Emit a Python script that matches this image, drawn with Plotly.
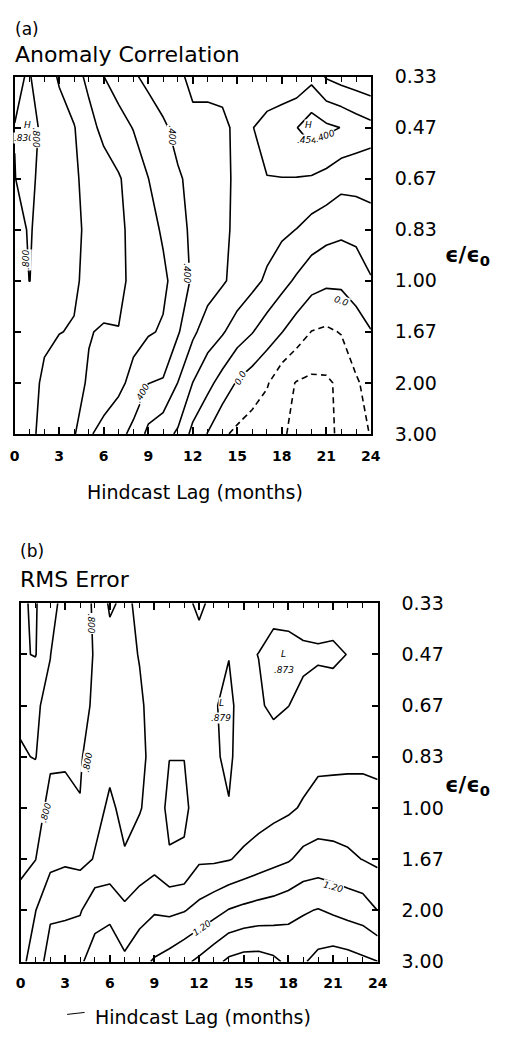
import plotly.graph_objects as go

# ---------------- data ----------------
months = [0, 1, 2, 3, 4, 5, 6, 7, 8, 9, 10, 11, 12, 13, 14, 15, 16, 17, 18, 19, 20, 21, 22, 23, 24]
eps_rows = [0, 1, 2, 3, 4, 5, 6, 7]
eps_labels = ["0.33", "0.47", "0.67", "0.83", "1.00", "1.67", "2.00", "3.00"]
lag_ticks = [0, 3, 6, 9, 12, 15, 18, 21, 24]
lag_tick_labels = ["0", "3", "6", "9", "12", "15", "18", "21", "24"]

# (a) anomaly correlation, one list per eps/eps0 row (0.33 ... 3.00), columns = lag 0..24
acc_033 = [0.79, 0.805, 0.752, 0.689, 0.637, 0.577, 0.501, 0.457, 0.413, 0.375, 0.339, 0.304, 0.295, 0.29, 0.285, 0.28, 0.26, 0.24, 0.22, 0.23, 0.27, 0.19, 0.16, 0.14, 0.12]
acc_047 = [0.801, 0.83, 0.779, 0.742, 0.705, 0.631, 0.575, 0.536, 0.496, 0.456, 0.416, 0.37, 0.305, 0.31, 0.31, 0.29, 0.297, 0.328, 0.366, 0.397, 0.454, 0.42, 0.398, 0.36, 0.33]
acc_067 = [0.799, 0.815, 0.777, 0.744, 0.711, 0.677, 0.643, 0.609, 0.558, 0.501, 0.456, 0.411, 0.376, 0.344, 0.313, 0.29, 0.29, 0.298, 0.298, 0.297, 0.29, 0.27, 0.235, 0.24, 0.255]
acc_083 = [0.78, 0.805, 0.776, 0.746, 0.716, 0.685, 0.651, 0.617, 0.578, 0.535, 0.488, 0.429, 0.383, 0.348, 0.314, 0.286, 0.264, 0.241, 0.22, 0.198, 0.16, 0.135, 0.12, 0.125, 0.14]
acc_100 = [0.77, 0.801, 0.771, 0.741, 0.711, 0.68, 0.648, 0.616, 0.584, 0.552, 0.519, 0.46, 0.385, 0.348, 0.311, 0.271, 0.229, 0.184, 0.132, 0.085, 0.04, 0.02, 0.02, 0.05, 0.095]
acc_167 = [0.75, 0.74, 0.71, 0.702, 0.695, 0.605, 0.59, 0.598, 0.53, 0.51, 0.49, 0.41, 0.32, 0.25, 0.21, 0.15, 0.105, 0.05, 0.003, -0.05, -0.102, -0.115, -0.095, -0.05, -0.005]
acc_200 = [0.75, 0.72, 0.69, 0.66, 0.63, 0.59, 0.56, 0.525, 0.47, 0.402, 0.39, 0.298, 0.199, 0.13, 0.06, -0.01, -0.05, -0.09, -0.165, -0.205, -0.22, -0.215, -0.18, -0.11, -0.07]
acc_300 = [0.75, 0.715, 0.68, 0.645, 0.609, 0.512, 0.467, 0.431, 0.373, 0.276, 0.236, 0.186, 0.07, -0.004, -0.084, -0.12, -0.145, -0.17, -0.195, -0.21, -0.22, -0.215, -0.188, -0.14, -0.095]

# (b) RMS error
rms_033 = [0.61, 0.59, 0.68, 0.72, 0.77, 0.81, 0.915, 0.88, 0.92, 0.93, 0.93, 0.92, 0.885, 0.92, 0.93, 0.93, 0.93, 0.92, 0.93, 0.94, 0.93, 0.94, 0.95, 0.95, 0.95]
rms_047 = [0.61, 0.595, 0.699, 0.735, 0.77, 0.805, 0.86, 0.88, 0.903, 0.93, 0.94, 0.93, 0.93, 0.905, 0.902, 0.91, 0.899, 0.88, 0.875, 0.885, 0.892, 0.885, 0.902, 0.93, 0.94]
rms_067 = [0.68, 0.695, 0.71, 0.745, 0.78, 0.81, 0.84, 0.865, 0.89, 0.925, 0.945, 0.94, 0.925, 0.905, 0.885, 0.93, 0.91, 0.885, 0.899, 0.92, 0.93, 0.94, 0.95, 0.955, 0.96]
rms_083 = [0.71, 0.695, 0.795, 0.795, 0.795, 0.825, 0.885, 0.875, 0.885, 0.92, 0.901, 0.901, 0.915, 0.905, 0.893, 0.92, 0.935, 0.94, 0.95, 0.96, 0.975, 0.975, 0.975, 0.97, 0.96]
rms_100 = [0.76, 0.785, 0.81, 0.812, 0.802, 0.88, 0.91, 0.885, 0.895, 0.93, 0.887, 0.887, 0.93, 0.91, 0.902, 0.94, 0.955, 0.97, 0.985, 1.01, 1.04, 1.045, 1.05, 1.06, 1.05]
rms_167 = [0.78, 0.798, 0.87, 0.885, 0.875, 0.905, 0.92, 0.905, 0.935, 0.96, 0.905, 0.91, 0.985, 0.985, 0.995, 1.02, 1.045, 1.07, 1.09, 1.13, 1.14, 1.13, 1.115, 1.098, 1.08]
rms_200 = [0.83, 0.897, 0.985, 0.985, 0.99, 1.075, 1.085, 1.02, 1.06, 1.09, 1.08, 1.095, 1.13, 1.165, 1.205, 1.225, 1.24, 1.25, 1.27, 1.29, 1.305, 1.285, 1.265, 1.25, 1.199]
rms_300 = [0.87, 0.95, 1.04, 1.06, 1.09, 1.13, 1.14, 1.12, 1.17, 1.21, 1.24, 1.28, 1.32, 1.37, 1.42, 1.44, 1.44, 1.42, 1.38, 1.39, 1.43, 1.45, 1.44, 1.42, 1.401]

acc_grid = [acc_033, acc_047, acc_067, acc_083, acc_100, acc_167, acc_200, acc_300]
rms_grid = [rms_033, rms_047, rms_067, rms_083, rms_100, rms_167, rms_200, rms_300]

# contour labels: (text, lag, row, angle)
acc_labels = [
    ("H", 0.85, 0.95, 0), (".830", 0.6, 1.2, 0), (".800", 1.45, 1.2, 90),
    (".800", 0.8, 3.6, -90), (".400", 10.6, 1.15, 90), (".400", 11.6, 3.85, 90),
    (".400", 8.6, 6.2, -60), ("H", 19.8, 0.95, 0), (".454", 19.7, 1.25, 0),
    (".400", 20.9, 1.17, -20), ("0.0", 22.0, 4.4, 20), ("0.0", 15.2, 5.9, -60),
]
rms_labels = [
    (".800", 4.75, 0.4, 90), (".800", 4.5, 3.1, -80), (".800", 1.7, 4.1, -75),
    ("L", 17.7, 1.0, 0), (".873", 17.7, 1.3, 0), ("L", 13.5, 1.95, 0), (".879", 13.5, 2.25, 0),
    ("1.20", 12.2, 6.35, -35), ("1.20", 21.0, 5.55, 15),
]

W, H = 507, 1044
FONT = "DejaVu Sans"

fig = go.Figure()


def add_panel(z, xa, ya, solid_rng, dash_rng):
    s0, s1 = solid_rng
    fig.add_trace(go.Contour(
        x=months, y=eps_rows, z=z, xaxis=xa, yaxis=ya,
        autocontour=False,
        contours=dict(start=s0, end=s1 + 1e-6, size=0.1, coloring="none"),
        line=dict(color="black", width=1.6, smoothing=0),
        showscale=False, hoverinfo="skip"))
    if dash_rng:
        d0, d1 = dash_rng
        fig.add_trace(go.Contour(
            x=months, y=eps_rows, z=z, xaxis=xa, yaxis=ya,
            autocontour=False,
            contours=dict(start=d0, end=d1 + 1e-6, size=0.1, coloring="none"),
            line=dict(color="black", width=1.6, smoothing=0, dash="6px,4px"),
            showscale=False, hoverinfo="skip"))


add_panel(acc_grid, "x", "y", (0.0, 0.8), (-0.2, -0.1))
add_panel(rms_grid, "x2", "y2", (0.6, 1.4), None)


def px_x(p):
    return p / W


def px_y(p):
    return (H - p) / H


xcommon = dict(range=[0, 24], tickvals=lag_ticks, ticktext=lag_tick_labels,
               ticks="inside", ticklen=7, tickwidth=1.5, tickcolor="black",
               minor=dict(ticks="inside", dtick=1, ticklen=5, tickwidth=1.2, tickcolor="black", showgrid=False),
               showline=True, linewidth=2, linecolor="black", mirror="ticks",
               showgrid=False, zeroline=False,
               tickfont=dict(family=FONT, size=14, color="black", weight="bold"), ticklabelstandoff=8)
ycommon = dict(range=[7, 0], tickvals=eps_rows, ticktext=eps_labels, side="right",
               ticks="inside", ticklen=6, tickwidth=1.5, tickcolor="black",
               showline=True, linewidth=2, linecolor="black", mirror="ticks",
               showgrid=False, zeroline=False,
               tickfont=dict(family=FONT, size=19, color="black"), ticklabelstandoff=18)

fig.update_layout(
    width=W, height=H, margin=dict(l=0, r=0, t=0, b=0),
    paper_bgcolor="white", plot_bgcolor="white", showlegend=False,
    xaxis=dict(domain=[px_x(10), px_x(377)], anchor="y", **xcommon),
    yaxis=dict(domain=[px_y(432), px_y(67)], anchor="x", **ycommon),
    xaxis2=dict(domain=[px_x(16), px_x(384)], anchor="y2", **xcommon),
    yaxis2=dict(domain=[px_y(971), px_y(605)], anchor="x2", **ycommon),
)

ann = []
for txt, x, y, ang in acc_labels:
    ann.append(dict(text=f"<i>{txt}</i>", x=x, y=y, xref="x", yref="y", showarrow=False,
                    textangle=ang, font=dict(family=FONT, size=9, color="black"),
                    bgcolor="white", borderpad=0))
for txt, x, y, ang in rms_labels:
    ann.append(dict(text=f"<i>{txt}</i>", x=x, y=y, xref="x2", yref="y2", showarrow=False,
                    textangle=ang, font=dict(family=FONT, size=9, color="black"),
                    bgcolor="white", borderpad=0))

texts = [
    ("(a)", 8, 18, 17, "left"),
    ("Anomaly Correlation", 8, 44, 22, "left"),
    ("Hindcast Lag (months)", 196, 491, 19, "center"),
    ("(b)", 13, 552, 17, "left"),
    ("RMS Error", 13, 581, 22, "left"),
    ("Hindcast Lag (months)", 204, 1028, 19, "center"),
]
for txt, x, y, sz, anchor in texts:
    ann.append(dict(text=txt, x=px_x(x), y=px_y(y), xref="paper", yref="paper", showarrow=False,
                    xanchor=anchor, yanchor="middle", font=dict(family=FONT, size=sz, color="black")))

for yy in (250, 792):
    ann.append(dict(text="<b>ϵ/ϵ<sub>0</sub></b>", x=px_x(451), y=px_y(yy), xref="paper", yref="paper",
                    showarrow=False, xanchor="left", yanchor="middle",
                    font=dict(family=FONT, size=21, color="black")))

fig.update_layout(annotations=ann)
fig.add_shape(type="line", xref="paper", yref="paper",
              x0=px_x(64), x1=px_x(82), y0=px_y(1025), y1=px_y(1023),
              line=dict(color="black", width=1))

fig.write_html("out.html")
